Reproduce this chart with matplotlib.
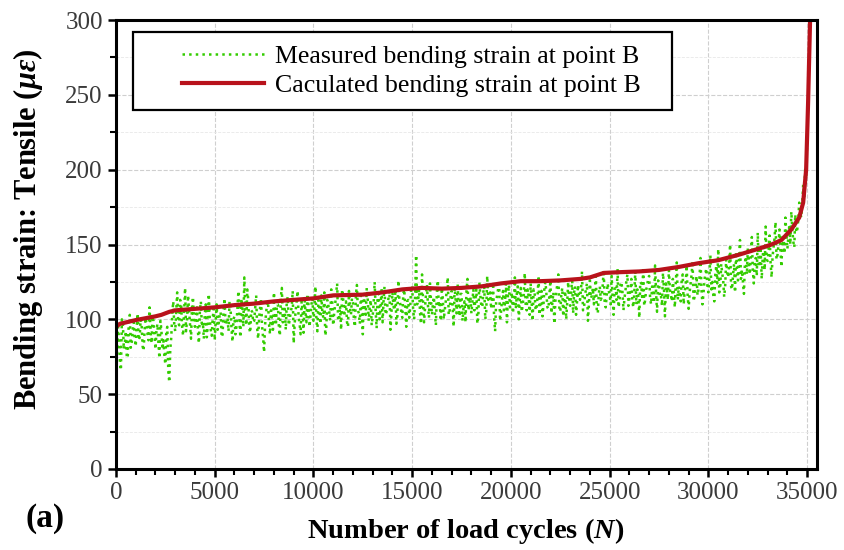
import matplotlib
matplotlib.use('Agg')
import matplotlib.pyplot as plt
from matplotlib.ticker import MultipleLocator
from matplotlib.legend_handler import HandlerLine2D
import numpy as np

# measured bending strain at point B
# readings at 0, 100, 200, ... cycles
measured_a = [
    68, 95, 72, 100, 80, 92, 76, 103, 85, 98,
    82, 104, 88, 96, 79, 101, 90, 108, 84, 99,
    80, 97, 74, 93, 86, 70, 95, 58, 88, 112,
    92, 118, 96, 110, 89, 121, 100, 106, 87, 115,
    95, 108, 84, 112, 98, 104, 88, 117, 93, 101,
    86, 110, 97, 105, 90, 114, 99, 92, 108, 85,
    102, 95, 119, 88, 109, 128, 96, 113, 91, 105,
    99, 116, 87, 108, 95, 78, 104, 112, 90, 100,
    118, 96, 110, 89, 121, 103, 93, 115, 100, 108,
    84, 106, 119, 97, 112, 91, 104, 117, 95, 110,
    99, 122, 92, 108, 116, 101, 89, 113, 105, 120,
    96, 110, 124, 100, 93, 115, 107, 98, 119, 103,
    111, 95, 123, 104, 116, 90, 109, 121, 99, 113,
    102, 125, 94, 117, 108, 98, 122, 105, 114, 93,
    118, 106, 97, 126, 110, 101, 120, 95, 113, 108,
    122, 100, 143, 112, 104, 130, 98, 117, 109, 124,
    103, 115, 96, 126, 110, 121, 100, 112, 128, 106,
    119, 95, 113, 124, 102, 117, 108, 98, 127, 111,
    104, 120, 113, 97, 125, 109, 118, 100, 129, 114,
    107, 122, 92, 116, 126, 105, 119, 111, 98, 123,
    112, 104, 128, 117, 100, 121, 110, 131, 106, 115,
    124, 99, 118, 108, 129, 113, 102, 122, 116, 107,
    126, 111, 97, 119, 130, 105, 121, 114, 100, 125,
    109, 128, 118, 103, 123, 113, 132, 107, 120, 99,
    126, 116, 110, 131, 104, 122, 115, 133, 108, 124,
    117, 129, 103, 121, 134, 112, 125, 106, 119, 130,
    114, 127, 108, 132, 120, 101, 124, 135, 113, 122,
    129, 110, 119, 136, 105, 125, 116, 131, 102, 121,
    133, 117, 127, 108, 138, 122, 112, 130, 119, 136,
    107, 124, 139, 115, 129, 120, 141, 110, 126, 134,
    118, 143, 125, 112, 136, 147, 121, 131, 115, 140,
    128, 150, 120, 137, 145, 126, 153, 133, 117, 142,
    148, 130, 155, 124, 141, 158, 136, 127, 150, 162,
    139, 156, 128, 148, 165, 143, 160, 135, 152, 168,
    147, 163, 172, 152, 170, 160, 178, 168, 190, 200,
    218,
]
# readings at 50, 150, 250, ... cycles
measured_b = [
    78, 88, 66, 97, 84, 74, 99, 81, 93, 87,
    95, 86, 100, 82, 93, 97, 86, 94, 102, 90,
    92, 84, 99, 80, 76, 92, 65, 80, 103, 97,
    105, 99, 113, 95, 104, 92, 116, 97, 108, 100,
    101, 92, 106, 95, 87, 110, 96, 100, 89, 107,
    99, 93, 103, 88, 107, 96, 101, 112, 94, 100,
    90, 108, 99, 114, 95, 103, 120, 94, 106, 98,
    108, 94, 101, 114, 88, 96, 110, 97, 106, 93,
    104, 110, 95, 115, 98, 107, 112, 96, 105, 119,
    97, 112, 101, 90, 106, 115, 98, 109, 102, 114,
    107, 100, 113, 97, 105, 118, 94, 110, 99, 112,
    104, 117, 99, 109, 120, 102, 112, 95, 108, 114,
    100, 116, 106, 97, 110, 119, 103, 113, 108, 96,
    111, 106, 116, 100, 121, 112, 103, 110, 119, 104,
    109, 120, 102, 114, 105, 117, 108, 112, 101, 122,
    106, 116, 110, 120, 97, 112, 107, 123, 101, 114,
    110, 104, 118, 108, 99, 114, 106, 120, 103, 116,
    108, 121, 104, 110, 117, 99, 112, 119, 106, 115,
    112, 106, 120, 102, 116, 108, 122, 105, 113, 118,
    115, 101, 111, 120, 99, 113, 106, 124, 116, 108,
    118, 111, 107, 122, 113, 105, 117, 109, 120, 103,
    112, 120, 106, 115, 103, 119, 110, 125, 108, 117,
    104, 118, 112, 123, 108, 116, 102, 119, 111, 113,
    117, 104, 122, 112, 115, 120, 106, 116, 124, 110,
    114, 121, 118, 106, 117, 113, 123, 110, 116, 119,
    110, 115, 120, 113, 108, 123, 118, 114, 126, 109,
    120, 112, 118, 110, 116, 125, 113, 109, 120, 128,
    114, 122, 111, 118, 126, 115, 109, 121, 124, 113,
    120, 112, 118, 124, 113, 117, 127, 110, 123, 116,
    118, 130, 112, 122, 116, 128, 120, 117, 131, 122,
    128, 120, 116, 130, 124, 118, 137, 126, 122, 132,
    136, 122, 130, 118, 134, 140, 127, 125, 138, 130,
    137, 142, 133, 140, 129, 135, 146, 141, 133, 140,
    146, 138, 142, 154, 140, 150, 146, 155, 144, 158,
    155, 150, 160, 148, 158, 166, 172, 176, 182, 196,
]

# calculated bending strain
calc_n = [0, 200, 1000, 2000, 2300, 2700, 3000, 4000, 5000, 6000, 7000, 8000,
          9000, 10000, 11000, 12500, 13500, 14500, 15500, 16500, 17500, 18500,
          19500, 20500, 21500, 22500, 23500, 24000, 24700, 25500, 26500, 27500,
          28500, 29500, 30500, 31500, 32500, 33200, 33700, 34200, 34600, 34800,
          34950, 35050, 35150]
calc = [95, 97, 99.5, 102, 103, 105, 106, 107, 108, 109.5, 110.5, 112,
        113, 114, 116, 116.5, 118, 120, 121, 120.5, 121, 122,
        124, 125.5, 125.5, 126, 127, 128, 131, 131.5, 132, 133,
        135, 137.5, 139.5, 143, 147, 150, 153, 160, 168, 178,
        200, 245, 300]

# interleave the two sets of readings into one trace
n_a = np.arange(len(measured_a)) * 100
n_b = np.arange(len(measured_b)) * 100 + 50
meas_n = np.empty(len(n_a) + len(n_b))
meas = np.empty_like(meas_n)
meas_n[0::2], meas[0::2] = n_a, measured_a
meas_n[1::2], meas[1::2] = n_b, measured_b


class ShortLine(HandlerLine2D):
    # legend line drawn only over the right part of the handle box
    def get_xdata(self, legend, xdescent, ydescent, width, height, fontsize):
        x = np.array([-xdescent + 0.31 * width, -xdescent + width])
        return x, x


plt.rcParams['font.family'] = 'Liberation Serif'
plt.rcParams['mathtext.fontset'] = 'custom'
plt.rcParams['mathtext.rm'] = 'Liberation Serif'
plt.rcParams['mathtext.it'] = 'Liberation Serif:italic:bold'
plt.rcParams['mathtext.bf'] = 'Liberation Serif:bold'

fig = plt.figure(figsize=(8.44, 5.5), dpi=100)
ax = fig.add_axes([0.1374, 0.1473, 0.8306, 0.8163])

l1, = ax.plot(meas_n, meas, linestyle=':', color='#33cc00', lw=1.8,
              label='Measured bending strain at point B')
l2, = ax.plot(calc_n, calc, color='#b8121b', lw=3,
              label='Caculated bending strain at point B')

ax.set_xlim(0, 35500)
ax.set_ylim(0, 300)
ax.xaxis.set_major_locator(MultipleLocator(5000))
ax.xaxis.set_minor_locator(MultipleLocator(1000))
ax.yaxis.set_major_locator(MultipleLocator(50))
ax.yaxis.set_minor_locator(MultipleLocator(25))

ax.grid(which='major', linestyle='--', color='#cfcfcf', lw=0.8)
ax.grid(which='minor', axis='y', linestyle='--', color='#e8e8e8', lw=0.6)
ax.set_axisbelow(True)

for s in ax.spines.values():
    s.set_linewidth(2.2)
ax.tick_params(which='major', direction='out', length=6, width=1.8,
               labelsize=18, labelcolor='#3a3a3a')
ax.tick_params(which='minor', direction='out', length=4, width=1.5)

fig.text(0.552, 0.034, r'Number of load cycles ($\mathit{N}$)', fontsize=20.5,
         fontweight='bold', ha='center', va='center')
fig.text(0.033, 0.584, r'Bending strain: Tensile ($\mathit{\mu\varepsilon}$)',
         fontsize=22, fontweight='bold', ha='center', va='center',
         rotation=90)

leg = ax.legend(handles=[l1, l2], loc='upper left', mode='expand',
                bbox_to_anchor=(0.0243, 0.5, 0.769, 0.473), borderaxespad=0,
                fontsize=18.6, handlelength=4.6, handletextpad=0.43,
                labelspacing=0.25, borderpad=0.48,
                fancybox=False, edgecolor='black', framealpha=1,
                handler_map={l1: ShortLine(), l2: ShortLine()})
leg.get_frame().set_linewidth(1.6)

fig.text(0.053, 0.058, '(a)', fontsize=24, fontweight='bold',
         ha='center', va='center')

plt.savefig('out.png', dpi=100)
